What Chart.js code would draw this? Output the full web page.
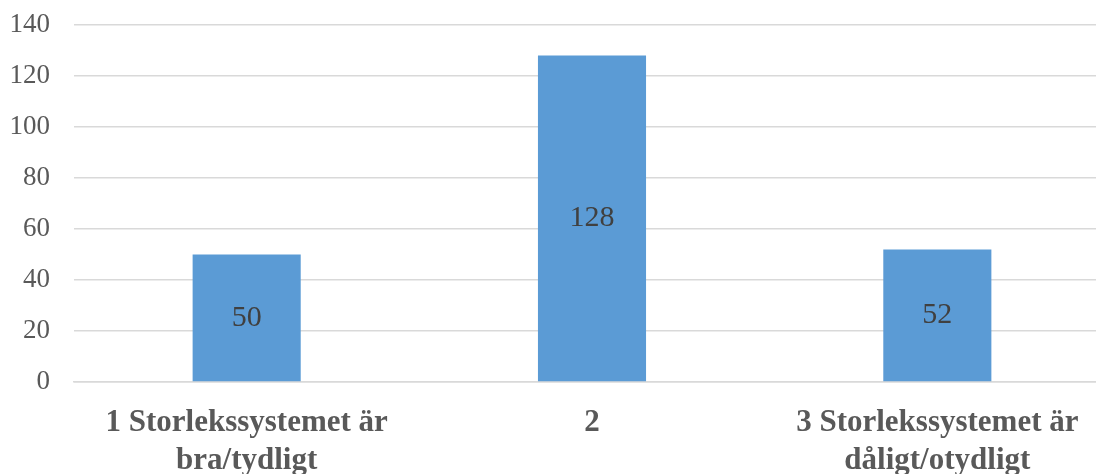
<!DOCTYPE html>
<html>
<head>
  <meta charset="UTF-8">
  <title>Storlekssystemet</title>
  <script src="https://cdn.jsdelivr.net/npm/chart.js"></script>
  <style>
    html, body { margin: 0; padding: 0; background: #fff; overflow: hidden; }
    #wrap { width: 1110px; height: 478px; }
  </style>
</head>
<body>
  <div id="wrap"><canvas id="chart"></canvas></div>

  <script>
    const categories = [
      ['1 Storlekssystemet är', 'bra/tydligt'],
      '2',
      ['3 Storlekssystemet är', 'dåligt/otydligt']
    ];
    const values = [50, 128, 52];
    const yTicks = [0, 20, 40, 60, 80, 100, 120, 140];

    // labels centred inside the bars
    const barLabels = {
      id: 'barLabels',
      afterDatasetsDraw(chart) {
        const ctx = chart.ctx;
        const meta = chart.getDatasetMeta(0);
        ctx.save();
        ctx.font = '30px "Liberation Serif", "Times New Roman", serif';
        ctx.fillStyle = '#404040';
        ctx.textAlign = 'center';
        ctx.textBaseline = 'middle';
        meta.data.forEach((bar, i) => {
          const p = bar.getProps(['x', 'y', 'base'], true);
          ctx.fillText(values[i], p.x, (p.y + p.base) / 2);
        });
        ctx.restore();
      }
    };

    new Chart(document.getElementById('chart'), {
      type: 'bar',
      data: {
        labels: categories,
        datasets: [{
          data: values,
          backgroundColor: '#5B9BD5',
          categoryPercentage: 0.313,
          barPercentage: 1
        }]
      },
      options: {
        responsive: true,
        maintainAspectRatio: false,
        animation: false,
        layout: { padding: { top: 25, left: 10, right: 0, bottom: 0 } },
        plugins: { legend: { display: false }, tooltip: { enabled: false } },
        scales: {
          x: {
            afterFit: axis => { axis.height = 96; axis.paddingLeft = 0; axis.paddingRight = 0; },
            grid: { display: false },
            border: { color: '#d9d9d9', width: 1.5 },
            ticks: {
              color: '#595959',
              padding: 14,
              maxRotation: 0,
              font: { family: '"Liberation Serif", "Times New Roman", serif', size: 31, weight: 'bold', lineHeight: 1.22 }
            }
          },
          y: {
            min: 0,
            max: 140,
            afterFit: axis => { axis.width = 64; axis.paddingTop = 0; axis.paddingBottom = 0; },
            afterBuildTicks: axis => { axis.ticks = yTicks.map(v => ({ value: v })); },
            grid: { color: '#d9d9d9', lineWidth: 1.5, drawTicks: false },
            border: { display: false },
            ticks: {
              color: '#595959',
              padding: 24,
              font: { family: '"Liberation Serif", "Times New Roman", serif', size: 27 }
            }
          }
        }
      },
      plugins: [barLabels]
    });
  </script>
</body>
</html>
